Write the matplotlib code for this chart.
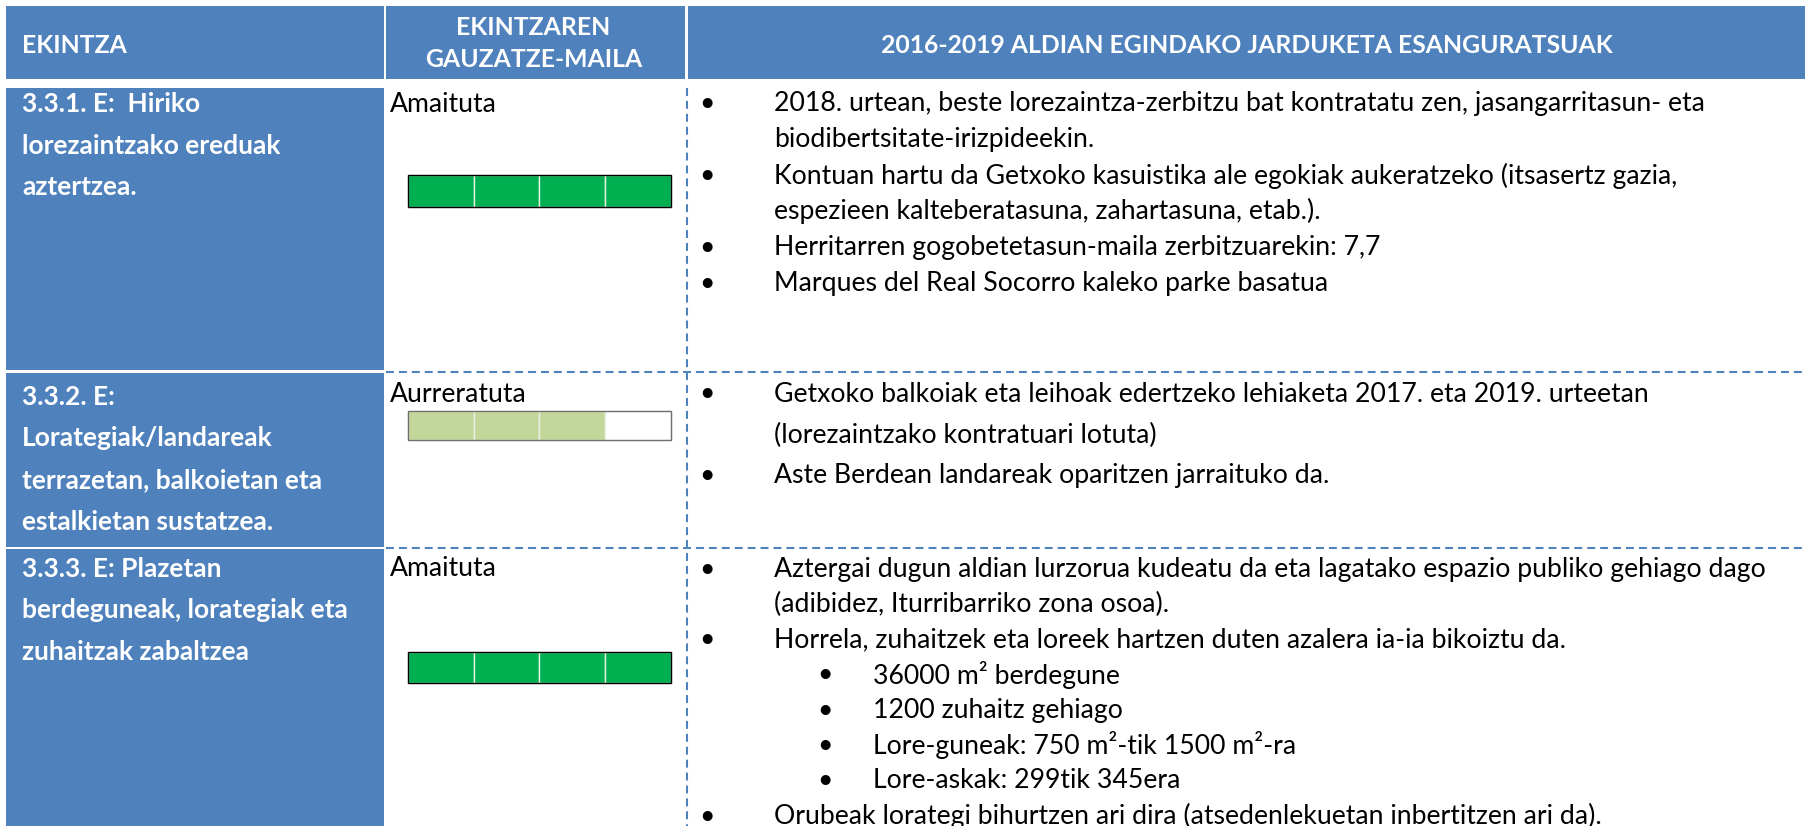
import matplotlib
matplotlib.use("Agg")
import matplotlib.pyplot as plt
from matplotlib.patches import Rectangle

W, H = 1806, 826

# table content
headers = ["EKINTZA", "EKINTZAREN\nGAUZATZE-MAILA",
           "2016-2019 ALDIAN EGINDAKO JARDUKETA ESANGURATSUAK"]
actions = [
    ["3.3.1. E:  Hiriko", "lorezaintzako ereduak", "aztertzea."],
    ["3.3.2. E:", "Lorategiak/landareak", "terrazetan, balkoietan eta",
     "estalkietan sustatzea."],
    ["3.3.3. E: Plazetan", "berdeguneak, lorategiak eta", "zuhaitzak zabaltzea"],
]
status = ["Amaituta", "Aurreratuta", "Amaituta"]
progress = [4, 3, 4]          # filled segments out of n_segments
n_segments = 4
bar_colors = ["#00B050", "#C4D79B", "#00B050"]
bar_edges = ["#000000", "#6f6f6f", "#000000"]

# (indent level, lines of one bullet)
notes = [
    [(0, ["2018. urtean, beste lorezaintza-zerbitzu bat kontratatu zen, jasangarritasun- eta",
          "biodibertsitate-irizpideekin."]),
     (0, ["Kontuan hartu da Getxoko kasuistika ale egokiak aukeratzeko (itsasertz gazia,",
          "espezieen kalteberatasuna, zahartasuna, etab.)."]),
     (0, ["Herritarren gogobetetasun-maila zerbitzuarekin: 7,7"]),
     (0, ["Marques del Real Socorro kaleko parke basatua"])],
    [(0, ["Getxoko balkoiak eta leihoak edertzeko lehiaketa 2017. eta 2019. urteetan",
          "(lorezaintzako kontratuari lotuta)"]),
     (0, ["Aste Berdean landareak oparitzen jarraituko da."])],
    [(0, ["Aztergai dugun aldian lurzorua kudeatu da eta lagatako espazio publiko gehiago dago",
          "(adibidez, Iturribarriko zona osoa)."]),
     (0, ["Horrela, zuhaitzek eta loreek hartzen duten azalera ia-ia bikoiztu da."]),
     (1, ["36000 m\u00b2 berdegune"]),
     (1, ["1200 zuhaitz gehiago"]),
     (1, ["Lore-guneak: 750 m\u00b2-tik 1500 m\u00b2-ra"]),
     (1, ["Lore-askak: 299tik 345era"]),
     (0, ["Orubeak lorategi bihurtzen ari dira (atsedenlekuetan inbertitzen ari da)."])],
]

# layout (pixels)
blue = "#4F81BD"
head_top, head_bot = 6, 79
cols = [(6, 384), (386, 685), (688, W)]
row_top = [88, 373, 549]
row_bot = [370, 547, H]
dash_y = [372, 548]
dash_x = 687
act_y0 = [104, 397, 569]
act_step = 41.5
status_y = [104, 394, 569]
bar_y = [191, 425, 667]
bar_h = [32, 29, 31]
bar_x0, bar_x1 = 408, 671
note_y0 = [104, 394, 569]
note_step = [35.8, 41, 35.3]
bullet_x = [707, 825]
text_x = [774, 873]
fs_body, fs_head, fs_act = 19.2, 17.8, 19

plt.rcParams['font.family'] = ['Lato', 'DejaVu Sans']

fig = plt.figure(figsize=(W / 100, H / 100), dpi=100)
ax = fig.add_axes([0, 0, 1, 1])
ax.set_xlim(0, W)
ax.set_ylim(H, 0)
ax.axis('off')

# header band
for (x0, x1) in cols:
    ax.add_patch(Rectangle((x0, head_top), x1 - x0, head_bot - head_top,
                           color=blue, lw=0))
mid_head = (head_top + head_bot) / 2
ax.text(22, mid_head + 3, headers[0], color='white',
        fontsize=fs_head, fontweight='bold', va='center', ha='left')
ax.text((cols[1][0] + cols[1][1]) / 2 - 2, mid_head + 1, headers[1],
        color='white', fontsize=fs_head, fontweight='bold', va='center', ha='center',
        linespacing=1.45)
ax.text((cols[2][0] + cols[2][1]) / 2, mid_head + 3, headers[2],
        color='white', fontsize=fs_head, fontweight='bold', va='center', ha='center')

# first column cells
for i in range(3):
    ax.add_patch(Rectangle((cols[0][0], row_top[i]), cols[0][1] - cols[0][0],
                           row_bot[i] - row_top[i], color=blue, lw=0))
    for j, line in enumerate(actions[i]):
        ax.text(22, act_y0[i] + j * act_step, line, color='white',
                fontsize=fs_act, fontweight='bold', va='center', ha='left')

# dashed grid
for y in dash_y:
    ax.plot([cols[1][0], W], [y, y], color=blue, lw=1.5, dashes=(3.8, 2.4))
ax.plot([dash_x, dash_x], [row_top[0], H], color=blue, lw=1.5, dashes=(3.8, 2.4))

# status + progress bars
seg_w = (bar_x1 - bar_x0) / n_segments
for i in range(3):
    ax.text(390, status_y[i], status[i], fontsize=fs_body, va='center', ha='left')
    lefts = [bar_x0 + k * seg_w for k in range(n_segments)]
    fills = [bar_colors[i] if k < progress[i] else 'white' for k in range(n_segments)]
    ax.barh([bar_y[i]] * n_segments, [seg_w] * n_segments, left=lefts,
            height=bar_h[i], color=fills, edgecolor='#e8f2e0', lw=1.0)
    ax.add_patch(Rectangle((bar_x0, bar_y[i] - bar_h[i] / 2), bar_x1 - bar_x0,
                           bar_h[i], fill=False, edgecolor=bar_edges[i], lw=1.0))

# notes
for i in range(3):
    y = note_y0[i]
    for level, lines in notes[i]:
        ax.text(bullet_x[level], y, "\u2022", fontsize=fs_body, va='center', ha='center')
        for line in lines:
            ax.text(text_x[level], y, line, fontsize=fs_body, va='center', ha='left')
            y += note_step[i]

fig.savefig("out.png", dpi=100)
